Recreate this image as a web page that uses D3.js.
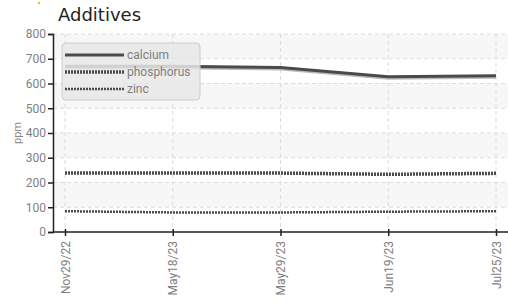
<!DOCTYPE html>
<html>
<head>
<meta charset="utf-8">
<script src="https://cdn.jsdelivr.net/npm/d3@7"></script>
<style>
  body { margin: 0; background: #fff; }
  svg { display: block; }
</style>
</head>
<body>
<div id="chart"></div>
<script>
// ----------------------------
// Data
// ----------------------------
const dates = ['Nov29/22', 'May18/23', 'May29/23', 'Jun19/23', 'Jul25/23'];
const calcium = [670, 670, 665, 627, 631];
const phosphorus = [238, 238, 238, 233, 237];
const zinc = [84, 79, 79, 82, 84];
const yTicks = [0, 100, 200, 300, 400, 500, 600, 700, 800];

const series = [
  { name: 'calcium', values: calcium, width: 3, dash: null, shadow: true },
  { name: 'phosphorus', values: phosphorus, width: 3.5, dash: '2,1', shadow: false },
  { name: 'zinc', values: zinc, width: 2.5, dash: '2,1', shadow: false }
];

const width = 508;
const height = 302;
const margin = { top: 34, right: 0, bottom: 70, left: 53 };

const svg = d3.select('#chart')
  .append('svg')
  .attr('width', width)
  .attr('height', height);

const x = d3.scalePoint()
  .domain(dates)
  .range([65, 496]);

const y = d3.scaleLinear()
  .domain([0, 800])
  .range([height - margin.bottom, margin.top]);

// ----------------------------
// Background bands + grid
// ----------------------------
const bands = svg.append('g');
yTicks.slice(0, -1).forEach((t, i) => {
  if (i % 2 === 1) {
    bands.append('rect')
      .attr('x', margin.left)
      .attr('y', y(t + 100))
      .attr('width', width - margin.left)
      .attr('height', y(t) - y(t + 100))
      .attr('fill', '#f7f7f7');
  }
});

const grid = svg.append('g')
  .attr('stroke', '#dcdcdc')
  .attr('stroke-dasharray', '4,3');

grid.selectAll('.hg')
  .data(yTicks.slice(1))
  .enter()
  .append('line')
  .attr('x1', margin.left)
  .attr('x2', width)
  .attr('y1', d => y(d))
  .attr('y2', d => y(d));

grid.selectAll('.vg')
  .data(dates)
  .enter()
  .append('line')
  .attr('x1', d => x(d))
  .attr('x2', d => x(d))
  .attr('y1', margin.top)
  .attr('y2', y(0));

// ----------------------------
// Lines
// ----------------------------
const line = d3.line()
  .x((d, i) => x(dates[i]))
  .y(d => y(d));

series.forEach(s => {
  if (s.shadow) {
    svg.append('path')
      .attr('d', line(s.values))
      .attr('fill', 'none')
      .attr('stroke', '#bbb')
      .attr('stroke-width', s.width)
      .attr('transform', 'translate(0,1.5)');
  }

  svg.append('path')
    .attr('d', line(s.values))
    .attr('fill', 'none')
    .attr('stroke', '#4a4a4a')
    .attr('stroke-width', s.width)
    .attr('stroke-dasharray', s.dash);
});

// ----------------------------
// Axes
// ----------------------------
const yAxis = svg.append('g')
  .attr('transform', `translate(${margin.left},0)`)
  .call(d3.axisLeft(y).tickValues(yTicks).tickSize(5).tickPadding(2));

yAxis.select('.domain').attr('stroke', '#222').attr('stroke-width', 1.5);
yAxis.selectAll('.tick line').attr('stroke', '#222').attr('stroke-width', 1.5);
yAxis.selectAll('text')
  .attr('fill', '#808080')
  .style('font-family', 'Roboto, sans-serif')
  .style('font-size', '12px');

const xAxis = svg.append('g')
  .attr('transform', `translate(0,${y(0)})`)
  .call(d3.axisBottom(x).tickSize(4));

xAxis.select('.domain')
  .attr('d', `M${margin.left},0H${width}`)
  .attr('stroke', '#222')
  .attr('stroke-width', 1.5);
xAxis.selectAll('.tick line')
  .attr('y1', -3)
  .attr('stroke', '#222')
  .attr('stroke-width', 1.5);
xAxis.selectAll('text')
  .attr('fill', '#808080')
  .style('font-family', 'Roboto, sans-serif')
  .style('font-size', '12px')
  .attr('text-anchor', 'end')
  .attr('transform', 'rotate(-90)')
  .attr('x', -9)
  .attr('y', 0)
  .attr('dy', '0.35em');

// y label
svg.append('text')
  .attr('transform', `translate(21,${(margin.top + y(0)) / 2}) rotate(-90)`)
  .attr('text-anchor', 'middle')
  .attr('fill', '#888')
  .style('font-family', 'Roboto, sans-serif')
  .style('font-size', '11px')
  .text('ppm');

// ----------------------------
// Title
// ----------------------------
svg.append('circle')
  .attr('cx', 39)
  .attr('cy', 3)
  .attr('r', 1.2)
  .attr('fill', '#f5c400');

svg.append('text')
  .attr('x', 58)
  .attr('y', 21)
  .attr('fill', '#222')
  .style('font-family', 'DejaVu Sans, sans-serif')
  .style('font-size', '18px')
  .text('Additives');

// ----------------------------
// Legend
// ----------------------------
const legend = svg.append('g').attr('transform', 'translate(62,43)');

legend.append('rect')
  .attr('width', 138)
  .attr('height', 57)
  .attr('rx', 4)
  .attr('fill', '#e8e8e8')
  .attr('fill-opacity', 0.85)
  .attr('stroke', '#cccccc');

series.forEach((s, i) => {
  const ly = 12 + i * 17;
  legend.append('line')
    .attr('x1', 3)
    .attr('x2', 62)
    .attr('y1', ly)
    .attr('y2', ly)
    .attr('stroke', '#4a4a4a')
    .attr('stroke-width', s.width)
    .attr('stroke-dasharray', s.dash);
  legend.append('text')
    .attr('x', 65)
    .attr('y', ly)
    .attr('dy', '0.35em')
    .attr('fill', '#808080')
    .style('font-family', 'Roboto, sans-serif')
    .style('font-size', '12px')
    .text(s.name);
});
</script>
</body>
</html>
